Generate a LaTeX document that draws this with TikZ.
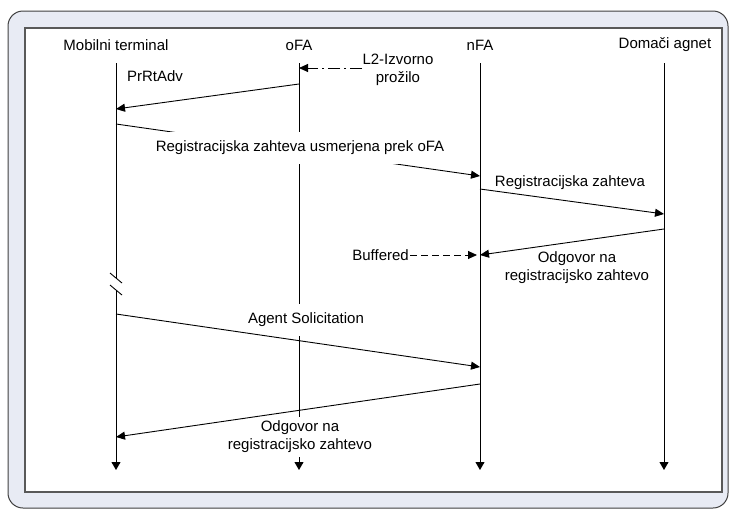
\documentclass[tikz,border=0pt]{standalone}
\usepackage{fontspec}
\setmainfont{Liberation Sans}
\usetikzlibrary{arrows.meta}
\definecolor{frameblue}{HTML}{E8EBF4}
\begin{document}
\begin{tikzpicture}[x=1pt,y=-1pt,
  lbl/.style={font=\fontsize{15}{18}\selectfont, inner sep=2pt, align=center},
  masklbl/.style={lbl, fill=white},
  lifeline/.style={line width=0.9pt, -{Triangle[length=8pt,width=9pt]}},
  plainline/.style={line width=0.9pt},
  msg/.style={line width=0.9pt, -{Triangle[length=9pt,width=8pt]}},
  dashmsg/.style={line width=0.9pt, dash pattern=on 7pt off 4pt, -{Triangle[length=9pt,width=8pt]}},
  dashdotmsg/.style={line width=0.9pt, dash pattern=on 12pt off 4pt on 2pt off 4pt, -{Triangle[length=9pt,width=8pt]}},
]
\useasboundingbox (0,0) rectangle (729,509);
% frames
\draw[fill=frameblue, draw=black!75, line width=1pt, rounded corners=15pt] (8,11) rectangle (728,508);
\draw[fill=white, draw=black!65, line width=1.2pt] (25,28) rectangle (722,492);

% headers
\node[lbl] (hMT) at (116,45) {Mobilni terminal};
\node[lbl] (hOFA) at (299,45) {oFA};
\node[lbl] (hNFA) at (480,45) {nFA};
\node[lbl] (hDA) at (665,45) {Domači agnet};

% lifeline coordinates
\coordinate (mtT) at (116,63);
\coordinate (mtK1) at (116,278);
\coordinate (mtK2) at (116,290);
\coordinate (mtB) at (116,470);
\coordinate (ofaT) at (299,63);
\coordinate (ofaB) at (299,470);
\coordinate (nfaT) at (480,63);
\coordinate (nfaB) at (480,470);
\coordinate (daT) at (664,63);
\coordinate (daB) at (664,470);

% lifelines
\draw[plainline] (mtT) -- (mtK1);
\draw[lifeline] (mtK2) -- (mtB);
\draw[lifeline] (ofaT) -- (ofaB);
\draw[lifeline] (nfaT) -- (nfaB);
\draw[lifeline] (daT) -- (daB);

% break marks
\coordinate (br1a) at (110,273);
\coordinate (br1b) at (122,283);
\coordinate (br2a) at (110,285);
\coordinate (br2b) at (122,295);
\draw[plainline] (br1a) -- (br1b);
\draw[plainline] (br2a) -- (br2b);

% message end points
\coordinate (m1s) at (299,84);   \coordinate (m1e) at (116,109);
\coordinate (m2s) at (362,68);   \coordinate (m2e) at (299,68);
\coordinate (m3s) at (116,124);  \coordinate (m3e) at (480,176);
\coordinate (m4s) at (480,189);  \coordinate (m4e) at (664,214);
\coordinate (m5s) at (664,229);  \coordinate (m5e) at (480,255);
\coordinate (m6e) at (477,255);
\coordinate (m7s) at (116,314);  \coordinate (m7e) at (480,367);
\coordinate (m8s) at (480,384);  \coordinate (m8e) at (116,437);

% masking labels drawn under their arrows
\node[masklbl, inner ysep=9pt, inner xsep=3pt] (lAS) at (306,320) {Agent Solicitation};
\node[masklbl, inner ysep=4pt, inner xsep=3pt] (lOd2) at (300,437) {Odgovor na\\registracijsko zahtevo};

% messages
\draw[msg] (m1s) -- (m1e);
\node[lbl] (lPr) at (155,76) {PrRtAdv};

\node[lbl] (lL2) at (398,70) {L2-Izvorno\\prožilo};
\draw[dashdotmsg] (m2s) -- (m2e);

\draw[msg] (m3s) -- (m3e);
\node[masklbl, inner ysep=9pt, inner xsep=3pt] (lReg1) at (300,148) {Registracijska zahteva usmerjena prek oFA};

\draw[msg] (m4s) -- (m4e);
\node[lbl] (lReg2) at (570,183) {Registracijska zahteva};

\draw[msg] (m5s) -- (m5e);
\node[lbl] (lOd1) at (577,268) {Odgovor na\\registracijsko zahtevo};

\node[lbl, anchor=east, inner xsep=1pt] (lBuf) at (410,255) {Buffered};
\draw[dashmsg] (lBuf.east) -- (m6e);

\draw[msg] (m7s) -- (m7e);
\draw[msg] (m8s) -- (m8e);
\end{tikzpicture}
\end{document}
